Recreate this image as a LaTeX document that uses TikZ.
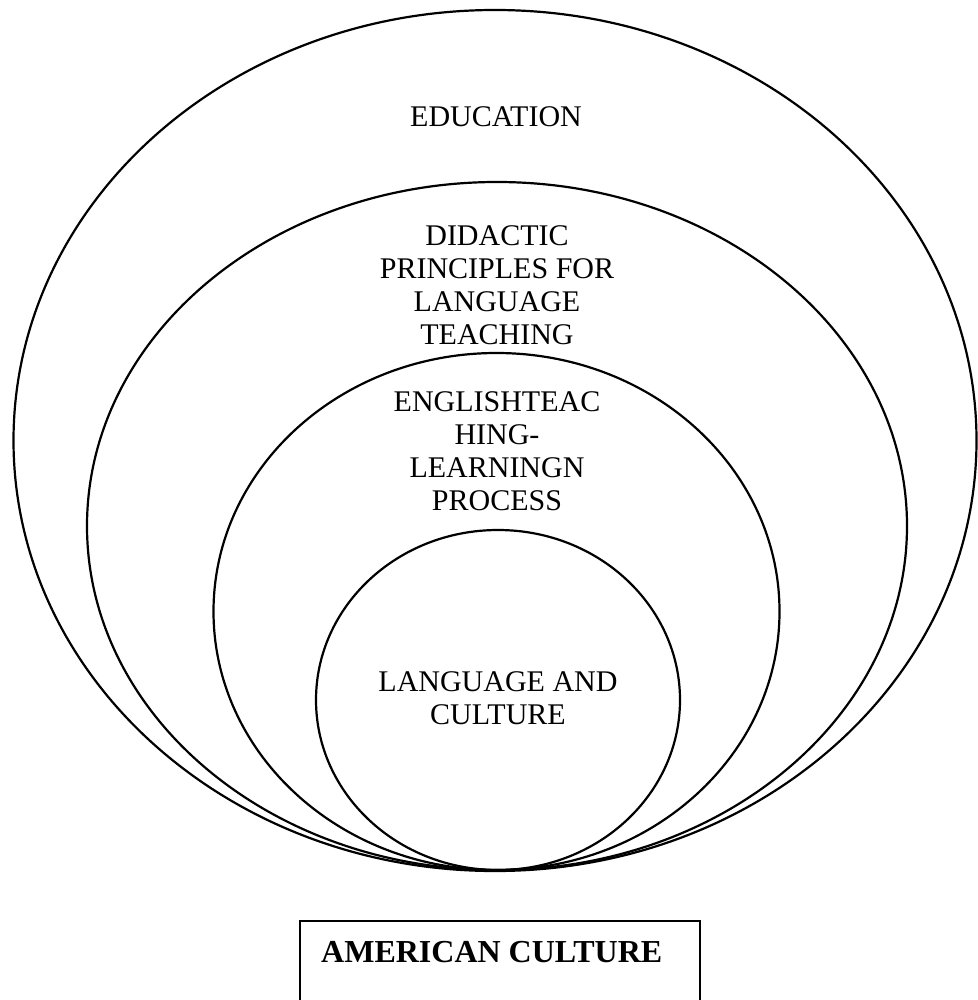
\documentclass[tikz,border=0pt]{standalone}
\usepackage{fontspec}
\setmainfont{Liberation Serif}
\begin{document}
\begin{tikzpicture}[x=1pt,y=-1pt,
  ring/.style={line width=2.2pt},
  lbl/.style={inner sep=0pt,align=center,font=\fontsize{30}{33.3}\selectfont},
  titlebox/.style={draw,line width=1.6pt}]
\useasboundingbox (0,0) rectangle (977,1000);
% ellipses
\draw[ring] (495,440.5) ellipse [x radius=481.5, y radius=430.5];
\draw[ring] (497,526) ellipse [x radius=410, y radius=344];
\draw[ring] (496.5,611.5) ellipse [x radius=283, y radius=258.5];
\draw[ring] (498,700) ellipse [x radius=182, y radius=170];
% labels
\node[lbl,anchor=base] (edu) at (496,127) {EDUCATION};
\node[lbl,anchor=north] (did) at (497,225) {DIDACTIC\\PRINCIPLES FOR\\LANGUAGE\\TEACHING};
\node[lbl,anchor=north] (eng) at (497,391) {ENGLISHTEAC\\HING-\\LEARNINGN\\PROCESS};
\node[lbl,anchor=north] (lac) at (498,671) {LANGUAGE AND\\CULTURE};
% box
\draw[titlebox] (300,921) rectangle (700,1010);
\node[inner sep=0pt,anchor=base west,font=\fontsize{32}{34}\selectfont\bfseries] (am) at (321,962) {AMERICAN CULTURE};
\end{tikzpicture}
\end{document}
